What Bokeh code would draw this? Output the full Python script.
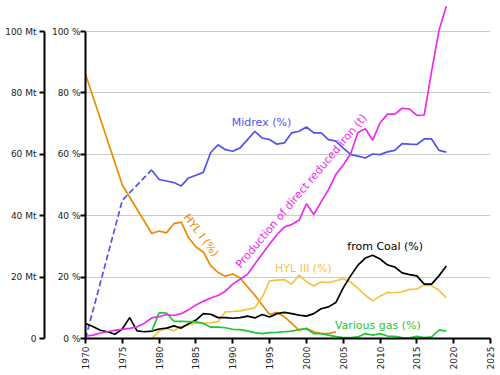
import math
from bokeh.plotting import figure
from bokeh.models import LinearAxis, FixedTicker
from bokeh.core.properties import value
from bokeh.embed import file_html
from bokeh.resources import INLINE

FONT = "DejaVu Sans"

# ---- data ----
midrex_est_years = [1970, 1975, 1979]
midrex_est = [0, 45, 55]

midrex_years = list(range(1979, 2020))
midrex = [54.8, 51.8, 51.3, 50.8, 49.7, 52.3, 53.2, 54.1, 60.6, 63.1,
          61.5, 61.0, 62.1, 64.8, 67.5, 65.3, 64.8, 63.3, 63.7, 67.0,
          67.5, 68.9, 67.0, 67.0, 64.8, 64.3, 62.0, 60.0, 59.4, 58.8,
          60.1, 59.9, 60.8, 61.3, 63.5, 63.3, 63.2, 65.0, 65.0, 61.3,
          60.7]

hyl1_years = [1970, 1975] + list(range(1979, 2005))
hyl1 = [86.1, 50.0, 34.2, 35.0, 34.4, 37.4, 37.9, 32.8, 29.8, 28.2,
        23.7, 21.5, 20.3, 21.0, 19.8, 16.8, 14.1, 10.9, 7.8, 8.5,
        7.1, 4.9, 2.7, 3.3, 2.2, 1.6, 1.6, 2.2]

hyl3_years = list(range(1979, 2020))
hyl3 = [0.0, 2.5, 3.3, 2.5, 4.0, 4.5, 5.0, 5.0, 5.1, 5.5,
        8.7, 8.8, 9.0, 9.5, 10.0, 13.5, 18.8, 19.0, 19.2, 17.7,
        20.6, 18.5, 17.1, 18.4, 18.2, 18.8, 19.5, 18.4, 16.3, 14.1,
        12.3, 13.8, 15.0, 14.9, 15.2, 16.0, 16.1, 17.4, 17.2, 15.7,
        13.3]

coal_years = list(range(1970, 2020))
coal = [4.9, 3.9, 2.7, 2.2, 1.4, 3.1, 6.8, 2.5, 2.2, 2.4,
        3.1, 3.4, 4.1, 3.4, 4.8, 6.0, 8.1, 7.9, 6.8, 6.8,
        6.6, 6.8, 7.3, 6.7, 7.8, 7.0, 8.1, 8.5, 8.1, 7.6,
        7.3, 8.1, 9.7, 10.3, 11.7, 16.5, 20.4, 23.9, 26.2, 27.1,
        25.9, 24.0, 23.3, 21.4, 20.8, 20.4, 17.7, 17.7, 20.4, 23.6]

gas_years = list(range(1979, 2020))
gas = [2.4, 8.4, 8.3, 5.6, 5.6, 5.5, 5.4, 4.9, 3.7, 3.7,
       3.5, 3.0, 2.9, 2.5, 1.9, 1.6, 1.9, 2.0, 2.2, 2.4,
       2.9, 3.2, 1.6, 1.6, 1.1, 0.6, 0.3, 0.3, 0.5, 1.6,
       1.1, 1.6, 0.8, 0.7, 0.3, 0.2, 0.7, 0.3, 0.5, 2.7,
       2.5]

prod_years = list(range(1970, 2020))
prod_mt = [0.8, 1.1, 1.8, 2.2, 2.7, 3.0, 3.3, 3.8, 5.0, 6.7,
           7.1, 7.8, 7.5, 8.1, 9.4, 10.9, 12.1, 13.2, 14.0, 15.4,
           17.7, 19.3, 20.9, 24.3, 27.5, 30.8, 33.8, 36.3, 37.1, 38.5,
           43.9, 40.4, 44.5, 48.5, 53.5, 56.5, 60.1, 67.1, 68.3, 64.6,
           70.2, 73.1, 73.1, 75.0, 74.7, 72.7, 72.8, 87.0, 100.3, 108.2]

y_ticks = [0, 20, 40, 60, 80, 100]
mt_labels = ["0", "20 Mt", "40 Mt", "60 Mt", "80 Mt", "100 Mt"]
pct_labels = ["0 %", "20 %", "40 %", "60 %", "80 %", "100 %"]
x_ticks = list(range(1970, 2030, 5))

label_text = ["Midrex (%)", "HYL I (%)", "Production of direct reduced iron (t)",
              "HYL III (%)", "from Coal (%)", "Various gas (%)"]
label_x = [1993.9, 1985.7, 1999.3, 1999.6, 2010.7, 2009.7]
label_y = [70.3, 33.6, 48.0, 22.9, 30.0, 4.2]

C_MIDREX = "#5252f0"
C_HYL1 = "#ec8a00"
C_HYL3 = "#f5c444"
C_COAL = "#000000"
C_GAS = "#1ec832"
C_PROD = "#ee2aee"

p = figure(width=500, height=375, x_range=(1970, 2025), y_range=(0, 109.45),
           output_backend="svg", toolbar_location=None,
           min_border_left=85, min_border_right=10, min_border_top=2,
           min_border_bottom=37, y_axis_location=None)
p.outline_line_color = None
p.xgrid.visible = False
p.ygrid.ticker = FixedTicker(ticks=y_ticks)
p.ygrid.grid_line_color = "#cccccc"
p.ygrid.grid_line_width = 1.2

def style_axis(ax):
    ax.axis_line_width = 2
    ax.axis_line_color = "black"
    ax.major_tick_line_width = 2
    ax.major_tick_out = 5
    ax.major_tick_in = 0
    ax.minor_tick_line_color = None
    ax.major_label_text_font = FONT
    ax.major_label_text_font_size = "9px"
    ax.major_label_text_color = "#222222"

# percent axis (inner)
ax_pct = LinearAxis(ticker=FixedTicker(ticks=y_ticks), bounds=(0, 100))
style_axis(ax_pct)
ax_pct.major_label_overrides = {t: s for t, s in zip(y_ticks, pct_labels)}
ax_pct.major_label_standoff = 0
ax_pct.axis_label = " "
ax_pct.axis_label_text_font_size = "1px"
ax_pct.axis_label_standoff = 0
p.add_layout(ax_pct, "left")

# Mt axis (outer)
ax_mt = LinearAxis(ticker=FixedTicker(ticks=y_ticks), bounds=(0, 100))
style_axis(ax_mt)
ax_mt.major_label_overrides = {t: s for t, s in zip(y_ticks, mt_labels)}
ax_mt.major_label_standoff = 3
p.add_layout(ax_mt, "left")

xa = p.xaxis[0]
style_axis(xa)
xa.ticker = FixedTicker(ticks=x_ticks)
xa.major_label_orientation = math.pi / 2
xa.major_label_standoff = 3

lw = 1.7
p.line(midrex_est_years, midrex_est, color=C_MIDREX, line_width=lw, line_dash="6 3")
p.line(midrex_years, midrex, color=C_MIDREX, line_width=lw)
p.line(hyl1_years, hyl1, color=C_HYL1, line_width=lw)
p.line(hyl3_years, hyl3, color=C_HYL3, line_width=lw)
p.line(coal_years, coal, color=C_COAL, line_width=lw)
p.line(gas_years, gas, color=C_GAS, line_width=lw)
p.line(prod_years, prod_mt, color=C_PROD, line_width=lw)

label_colors = [C_MIDREX, C_HYL1, C_PROD, C_HYL3, C_COAL, C_GAS]
label_angles = [0, -53, 50, 0, 0, 0]
for t, x, y, c, a in zip(label_text, label_x, label_y, label_colors, label_angles):
    p.text(x=[x], y=[y], text=[t], angle=math.radians(a), text_color=c,
           text_font=value(FONT), text_font_size="11px",
           text_align="center", text_baseline="middle")

open("out.html", "w").write(file_html(p, INLINE))
